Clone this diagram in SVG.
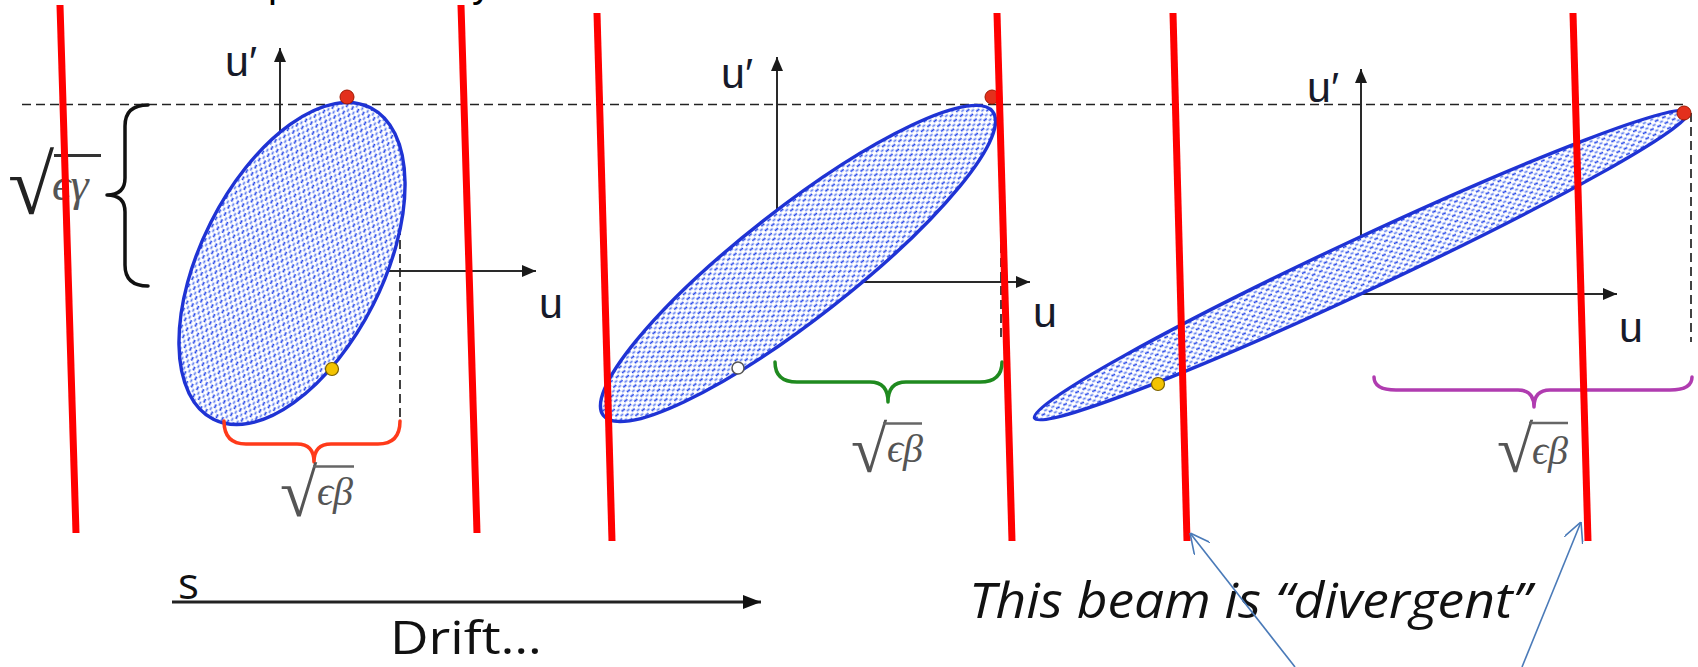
<svg xmlns="http://www.w3.org/2000/svg" width="1698" height="667" viewBox="0 0 1698 667">
<style>
.redline{stroke:#ff0000;stroke-width:7;fill:none}
.axis{stroke:#2a2a2a;stroke-width:2;fill:none;marker-end:url(#ax)}
.dash{stroke:#222;stroke-width:1.7;stroke-dasharray:9 5;fill:none}
.beam{fill:url(#dots);stroke:#1f33d4;stroke-width:3.4}
.lbl{font-family:"Liberation Sans","DejaVu Sans",sans-serif;font-size:43px;fill:#161a2a}
.math{font-family:"Liberation Serif","DejaVu Serif",serif;font-style:italic;fill:#555}
.rad{font-family:"Liberation Serif","DejaVu Serif",serif;font-style:normal}
.brace{fill:none;stroke-width:3.5;stroke-linecap:round;stroke-linejoin:round}
.comic{font-family:"Open Sans","Liberation Sans",sans-serif;fill:#111}
.callout{stroke:#4a7ab8;stroke-width:1.6;fill:none;marker-end:url(#open)}
.reddot{fill:#e3301c;stroke:#a01800;stroke-width:1}
.ydot{fill:#f3c300;stroke:#7a6000;stroke-width:1.2}
</style>
<defs>
<pattern id="dots" width="8" height="6" patternUnits="userSpaceOnUse">
<rect width="8" height="6" fill="#ffffff"/>
<rect x="0" y="0.6" width="4" height="1.7" fill="#2446e8"/>
<rect x="4.3" y="3.6" width="3.2" height="1.7" fill="#5a7af0"/>
</pattern>
<marker id="ax" viewBox="0 0 14 12" refX="14" refY="6" markerWidth="14" markerHeight="12" markerUnits="userSpaceOnUse" orient="auto">
<path d="M0,0 L14,6 L0,12 z" fill="#1a1a1a"/>
</marker>
<marker id="sarrow" viewBox="0 0 18 14" refX="18" refY="7" markerWidth="18" markerHeight="14" markerUnits="userSpaceOnUse" orient="auto">
<path d="M0,0 L18,7 L0,14 z" fill="#111"/>
</marker>
<marker id="open" viewBox="0 0 20 20" refX="20" refY="10" markerWidth="20" markerHeight="20" markerUnits="userSpaceOnUse" orient="auto">
<path d="M0,0 L20,10 L0,20" fill="none" stroke="#4a7ab8" stroke-width="1.6"/>
</marker>
</defs>
<rect width="1698" height="667" fill="#ffffff"/>

<g id="title-fragment" font-family="Liberation Sans, sans-serif" font-size="40" fill="#000">
<text x="268" y="-3.5">p</text>
<text x="472" y="-3.5">y</text>
</g>

<line id="reference-line" class="dash" x1="22" y1="104.5" x2="1686" y2="104.5"/>

<g id="panel1">
<line class="axis" x1="280" y1="271" x2="280" y2="48"/>
<line class="axis" x1="280" y1="271" x2="536" y2="271"/>
<line class="dash" x1="400" y1="184" x2="400" y2="427"/>
<ellipse class="beam" cx="292" cy="263.5" rx="174.4" ry="91" transform="rotate(-63.2 292 263.5)"/>
<circle class="reddot" cx="347" cy="97" r="7"/>
<circle class="ydot" cx="332" cy="369" r="6.5"/>
<text class="lbl" x="225" y="76">u′</text>
<text class="lbl" x="539" y="318">u</text>
<path class="brace" stroke="#111" d="M148,105 Q125,105 125,126 L125,178 Q125,195 107,195 Q125,195 125,212 L125,265 Q125,286 148,286"/>
<path class="brace" stroke="#ff3a1a" d="M224,421 Q224,444 246,444 L297,444 Q314,444 314,462 Q314,444 331,444 L378,444 Q400,444 400,421"/>
<g id="sqrt-eps-gamma">
<text class="math" x="8" y="214" font-size="46" fill="#333"><tspan class="rad" font-size="84" fill="#222">√</tspan><tspan x="52" y="200">ϵγ</tspan></text>
<line x1="54" y1="155.5" x2="101" y2="155.5" stroke="#333" stroke-width="3"/>
</g>
<g id="sqrt-eps-beta-1">
<text class="math" x="280" y="516" font-size="40"><tspan class="rad" font-size="68">√</tspan><tspan x="317" y="505">ϵβ</tspan></text>
<line x1="313" y1="466.5" x2="354" y2="466.5" stroke="#666" stroke-width="2.5"/>
</g>
</g>

<g id="panel2">
<line class="axis" x1="777" y1="282" x2="777" y2="57"/>
<line class="axis" x1="777" y1="282" x2="1030" y2="282"/>
<line class="dash" x1="1001" y1="104" x2="1001" y2="341"/>
<ellipse class="beam" cx="798" cy="263.5" rx="247" ry="55" transform="rotate(-38 798 263.5)"/>
<circle class="reddot" cx="992" cy="97" r="7"/>
<circle cx="738" cy="368" r="6" fill="#fff" stroke="#555" stroke-width="1.5"/>
<text class="lbl" x="721" y="88">u′</text>
<text class="lbl" x="1033" y="327">u</text>
<path class="brace" stroke="#1f8a1f" d="M775,362 Q775,382 797,382 L870,382 Q888,382 888,402 Q888,382 906,382 L980,382 Q1002,382 1002,362"/>
<g id="sqrt-eps-beta-2">
<text class="math" x="851" y="472" font-size="40"><tspan class="rad" font-size="66">√</tspan><tspan x="887" y="462">ϵβ</tspan></text>
<line x1="883" y1="423.5" x2="922" y2="423.5" stroke="#666" stroke-width="2.5"/>
</g>
</g>

<g id="panel3">
<line class="axis" x1="1361" y1="294" x2="1361" y2="69"/>
<line class="axis" x1="1361" y1="294" x2="1617" y2="294"/>
<line class="dash" x1="1691" y1="113" x2="1691" y2="342"/>
<ellipse class="beam" cx="1361.5" cy="265" rx="361" ry="26" transform="rotate(-25.1 1361.5 265)"/>
<circle class="reddot" cx="1684" cy="113" r="7"/>
<circle class="ydot" cx="1158" cy="384" r="6.5"/>
<text class="lbl" x="1307" y="102">u′</text>
<text class="lbl" x="1619" y="342">u</text>
<path class="brace" stroke="#b03cb0" d="M1374,377 Q1374,390 1396,390 L1518,390 Q1534,390 1534,407 Q1534,390 1550,390 L1670,390 Q1692,390 1692,377"/>
<g id="sqrt-eps-beta-3">
<text class="math" x="1497" y="472" font-size="40"><tspan class="rad" font-size="66">√</tspan><tspan x="1532" y="464">ϵβ</tspan></text>
<line x1="1529" y1="423" x2="1568" y2="423" stroke="#666" stroke-width="2.5"/>
</g>
</g>

<g id="red-lines">
<line class="redline" x1="60" y1="5" x2="76" y2="533"/>
<line class="redline" x1="461" y1="5" x2="477" y2="533"/>
<line class="redline" x1="597" y1="13" x2="612" y2="541"/>
<line class="redline" x1="997" y1="13" x2="1012" y2="541"/>
<line class="redline" x1="1173" y1="13" x2="1187" y2="541"/>
<line class="redline" x1="1573" y1="13" x2="1588" y2="541"/>
</g>

<g id="drift-axis">
<line x1="172" y1="602" x2="761" y2="602" stroke="#222" stroke-width="3" marker-end="url(#sarrow)"/>
<text class="comic" x="178" y="599" font-size="44">s</text>
<text class="comic" x="390" y="654" font-size="45" textLength="152" lengthAdjust="spacingAndGlyphs">Drift…</text>
</g>

<g id="divergent-note">
<text class="comic" x="969" y="618" font-size="50" font-style="italic" textLength="562" lengthAdjust="spacingAndGlyphs">This beam is “divergent”</text>
</g>

<g id="connectors">
<line class="callout" x1="1295" y1="667" x2="1190" y2="533"/>
<line class="callout" x1="1522" y1="667" x2="1581" y2="522"/>
</g>
</svg>
